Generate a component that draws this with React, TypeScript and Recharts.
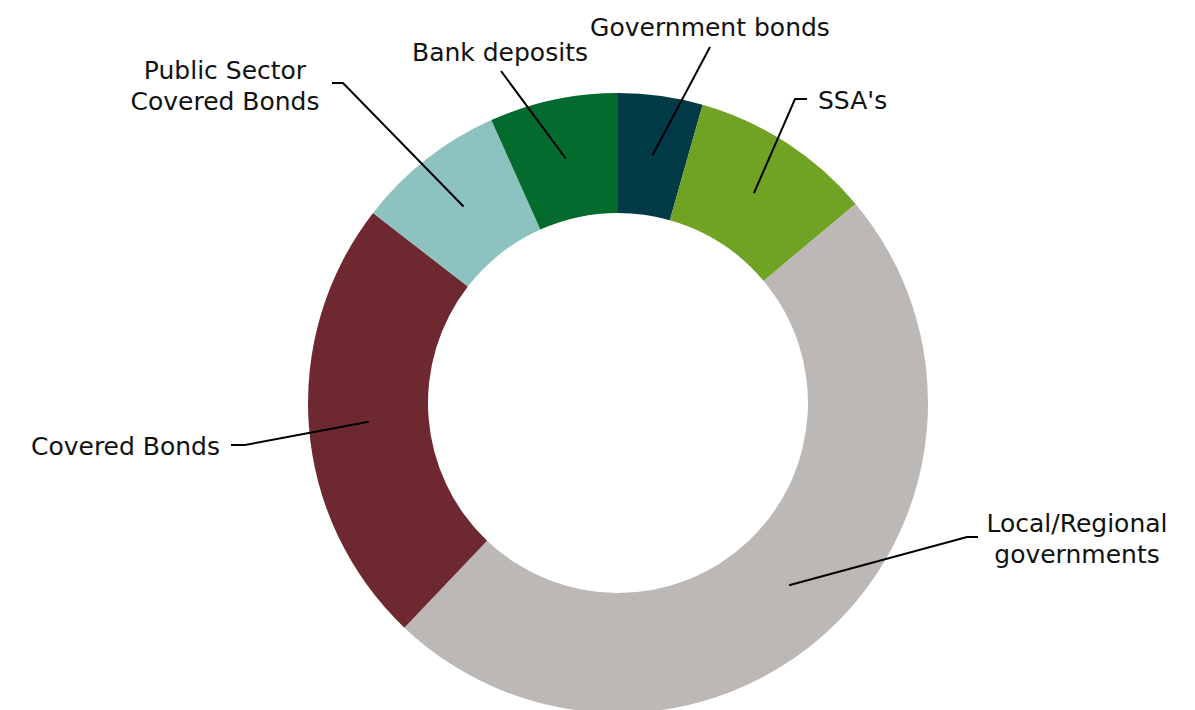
import React from "react";
import { PieChart, Pie, Cell } from "recharts";

// slices clockwise from 12 o'clock
const categories = [
  "Government bonds",
  "SSA's",
  "Local/Regional governments",
  "Covered Bonds",
  "Public Sector Covered Bonds",
  "Bank deposits",
];
const shares = [4.4, 9.5, 48.2, 23.4, 7.8, 6.7];
const labelLines = [
  ["Government bonds"],
  ["SSA's"],
  ["Local/Regional", "governments"],
  ["Covered Bonds"],
  ["Public Sector", "Covered Bonds"],
  ["Bank deposits"],
];

const colors = ["#003a47", "#70a323", "#bbb8b5", "#6e2930", "#8cc2bf", "#036b2d"];

// leader line elbow (relative to pie centre), tail length, text offset from elbow
const labelLayout = [
  { ex: 92, ey: -356, tail: 0, tx: 0, ty: -20, anchor: "middle" },
  { ex: 177, ey: -304, tail: 12, tx: 23, ty: 1, anchor: "start" },
  { ex: 349, ey: 134, tail: 11, tx: 110, ty: -14, anchor: "middle" },
  { ex: -373, ey: 42, tail: -14, tx: -25, ty: 1, anchor: "end" },
  { ex: -275, ey: -320, tail: -11, tx: -118, ty: -13, anchor: "middle" },
  { ex: -117, ey: -332, tail: 0, tx: -1, ty: -19, anchor: "middle" },
];

const data = categories.map((name, i) => ({ name, value: shares[i] }));

const RAD = Math.PI / 180;
const FONT = "'DejaVu Sans', Verdana, sans-serif";

function renderLabel(props: any) {
  const { cx, cy, midAngle, innerRadius, outerRadius, index } = props;
  const r = (innerRadius + outerRadius) / 2;
  const sx = cx + Math.cos(-midAngle * RAD) * r;
  const sy = cy + Math.sin(-midAngle * RAD) * r;
  const lay = labelLayout[index];
  const ex = cx + lay.ex;
  const ey = cy + lay.ey;
  const lines = labelLines[index];
  const lineH = 31;
  return (
    <g key={`lbl-${index}`}>
      <polyline
        points={`${sx},${sy} ${ex},${ey} ${ex + lay.tail},${ey}`}
        fill="none"
        stroke="#000"
        strokeWidth={2}
      />
      <text
        x={ex + lay.tx}
        y={ey + lay.ty}
        textAnchor={lay.anchor}
        dominantBaseline="central"
        fontFamily={FONT}
        fontSize={25}
        fill="#111"
      >
        {lines.map((l, k) => (
          <tspan key={k} x={ex + lay.tx} dy={k === 0 ? 0 : lineH}>
            {l}
          </tspan>
        ))}
      </text>
    </g>
  );
}

export default function App() {
  return (
    <div style={{ position: "absolute", left: 0, top: 0, background: "#fff" }}>
      <PieChart
        width={1195}
        height={710}
        margin={{ top: 0, right: 0, bottom: 0, left: 0 }}
      >
        <Pie
          data={data}
          dataKey="value"
          nameKey="name"
          cx={618}
          cy={403}
          innerRadius={190}
          outerRadius={310}
          startAngle={90}
          endAngle={-270}
          stroke="none"
          label={renderLabel}
          labelLine={false}
          isAnimationActive={false}
        >
          {data.map((d, i) => (
            <Cell key={d.name} fill={colors[i]} />
          ))}
        </Pie>
      </PieChart>
    </div>
  );
}
